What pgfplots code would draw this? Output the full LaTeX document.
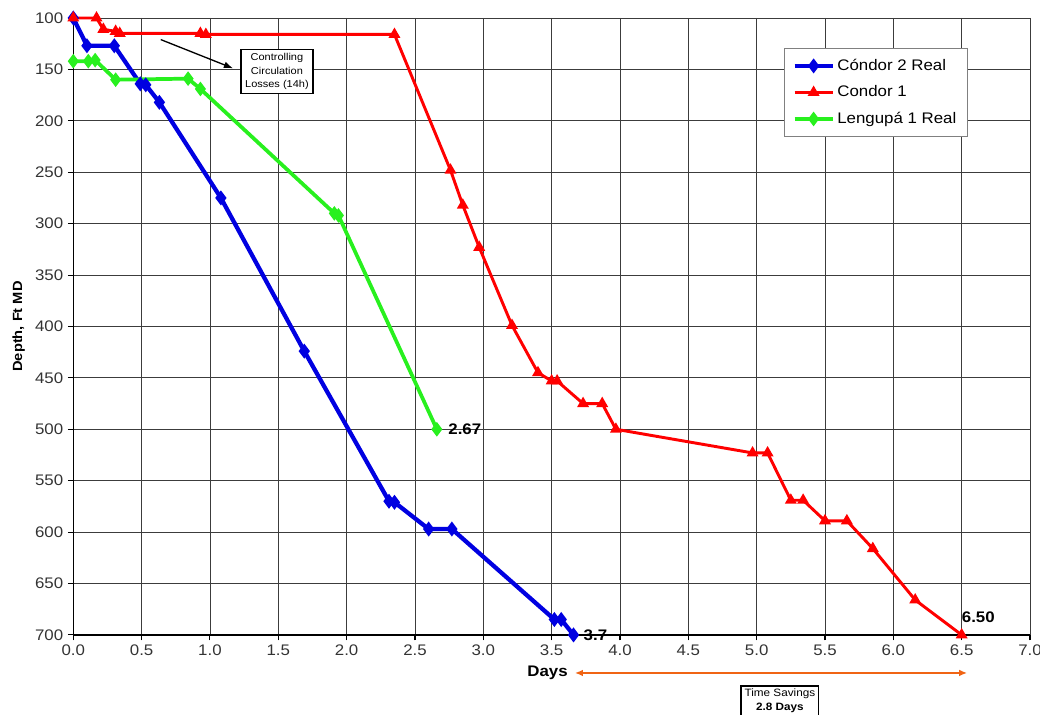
\documentclass[border=0pt]{standalone}
\usepackage{pgfplots}
\pgfplotsset{compat=1.18}
\usepackage{fontspec}
\setmainfont{Liberation Sans}[FakeStretch=1.1]
\usetikzlibrary{calc,arrows.meta}
\definecolor{cblue}{RGB}{0,0,225}
\definecolor{cred}{RGB}{255,0,0}
\definecolor{cgreen}{RGB}{40,240,30}
\definecolor{corange}{RGB}{240,100,20}
\definecolor{gridc}{RGB}{60,60,60}
\begin{document}
\begin{tikzpicture}
\begin{axis}[
  name=ax,
  scale only axis,
  width=718pt, height=463pt,
  xmin=0, xmax=7, ymin=100, ymax=700,
  y dir=reverse,
  xtick={0,0.5,...,7.01},
  ytick={100,150,...,700},
  grid=major,
  major grid style={draw=gridc, line width=0.6pt},
  axis x line*=bottom, axis y line*=left,
  axis line style={black, line width=1pt},
  tick align=outside,
  major tick length=4pt,
  tick style={black, line width=0.8pt},
  /pgf/number format/assume math mode=true,
  xticklabel style={/pgf/number format/.cd, fixed, fixed zerofill, precision=1},
  yticklabel style={/pgf/number format/.cd, fixed, precision=0},
  ticklabel style={font=\fontsize{11.5}{13}\selectfont, text=black!80},
  clip=false,
  legend style={at={(rel axis cs:0.743,0.951)}, anchor=north west,
    draw=gray, line width=0.6pt, fill=white,
    font=\fontsize{11.5}{13}\selectfont,
    row sep=6pt, inner xsep=6pt, inner ysep=6pt},
  legend cell align=left,
  legend image code/.code={\draw[#1] (0cm,0cm) -- (1cm,0cm) plot coordinates {(0.5cm,0cm)};},
]
\addplot[cblue, line width=3.2pt, mark=diamond*, mark size=3pt, mark options={solid}] coordinates {
(0.0,100) (0.10,127) (0.30,127) (0.49,164) (0.53,165) (0.63,182) (1.08,275)
(1.69,424) (2.31,570) (2.35,571) (2.60,597) (2.77,597) (3.52,685) (3.57,685) (3.66,700)
};
\addlegendentry{Cóndor 2 Real}
\addplot[cred, line width=2.2pt, mark=triangle*, mark size=3pt] coordinates {
(0.0,100) (0.17,100) (0.22,111) (0.31,113) (0.34,115) (0.93,115) (0.97,116) (2.35,116)
(2.76,248) (2.85,282) (2.97,323) (3.21,399) (3.40,445) (3.50,453) (3.54,453)
(3.73,475) (3.87,475) (3.97,500) (4.97,523) (5.08,523) (5.25,569) (5.34,569)
(5.50,589) (5.66,589) (5.85,616) (6.16,666) (6.50,700)
};
\addlegendentry{Condor 1}
\addplot[cgreen, line width=2.8pt, mark=diamond*, mark size=3.2pt] coordinates {
(0.0,142) (0.11,142) (0.16,141) (0.31,160) (0.84,159) (0.93,169) (1.91,290) (1.94,292) (2.66,500)
};
\addlegendentry{Lengupá 1 Real}

\coordinate (bl) at (rel axis cs:0,0);
\coordinate (tr) at (rel axis cs:1,1);

\node[rotate=90, font=\bfseries\fontsize{10}{12}\selectfont] at (axis cs:-0.40,400) {Depth, Ft MD};

\node[anchor=west, font=\bfseries\fontsize{11.5}{13}\selectfont] at (axis cs:2.71,500) {2.67};
\node[anchor=west, font=\bfseries\fontsize{11.5}{13}\selectfont] at (axis cs:3.70,700) {3.7};
\node[anchor=west, font=\bfseries\fontsize{11.5}{13}\selectfont, inner sep=1pt] at (axis cs:6.49,683) {6.50};

\draw[-{Latex[length=7pt,width=5pt]}, line width=1pt, black] (axis cs:0.64,121) -- (axis cs:1.17,149);
\node[draw=black, line width=1.2pt, fill=white, align=center, font=\fontsize{7.5}{10}\selectfont, inner sep=3pt]
  at (axis cs:1.49,152) {Controlling\\Circulation\\Losses (14h)};

\node[font=\bfseries\fontsize{11.5}{13}\selectfont] at (axis cs:3.47,737) {Days};
\draw[{Latex[length=6pt,width=5pt]}-{Latex[length=6pt,width=5pt]}, corange, line width=1.3pt]
  (axis cs:3.67,737) -- (axis cs:6.54,737);
\node[draw=black, line width=1.2pt, fill=white, align=center, font=\fontsize{8}{10}\selectfont, inner sep=2.5pt]
  at (axis cs:5.17,764) {Time Savings\\\textbf{2.8 Days}};
\end{axis}
\pgfresetboundingbox
\path ($(bl)+(-55pt,-60pt)$) rectangle ($(tr)+(7.5pt,13.5pt)$);
\end{tikzpicture}
\end{document}
